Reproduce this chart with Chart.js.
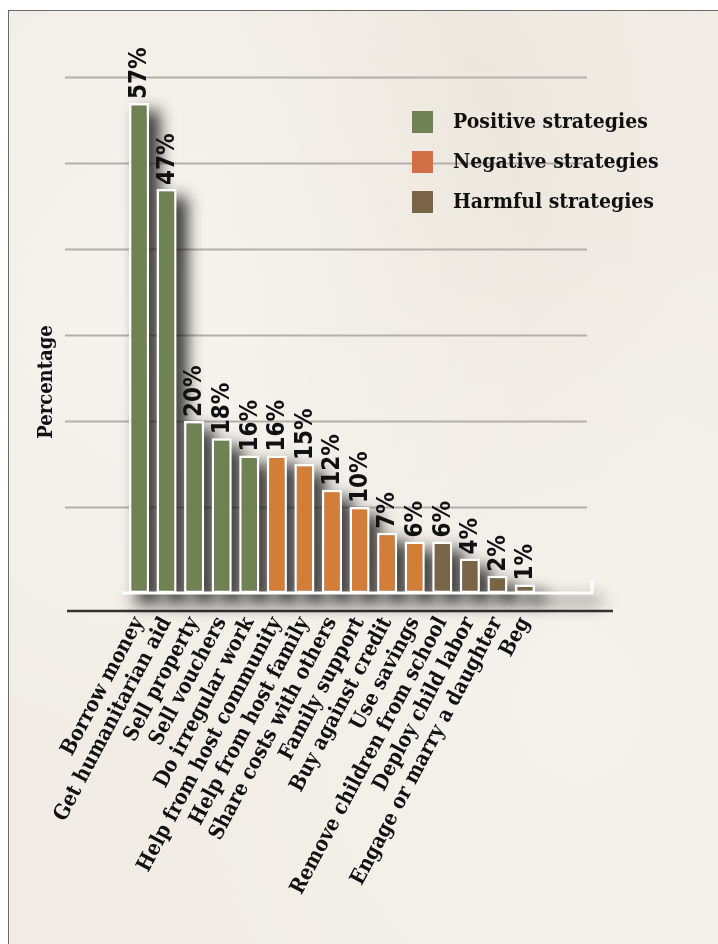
<!DOCTYPE html>
<html>
<head>
<meta charset="utf-8">
<script src="https://cdn.jsdelivr.net/npm/chart.js@4.4.1/dist/chart.umd.min.js"></script>
<style>
  html, body { margin: 0; padding: 0; background: #ffffff; }
  #wrap { position: relative; width: 718px; height: 944px; overflow: hidden; background: #ffffff; }
  #paper {
    position: absolute; left: 8px; top: 10px; width: 760px; height: 990px;
    border-top: 1.5px solid #6a6a6a; border-left: 1.5px solid #6a6a6a;
    background:
      radial-gradient(ellipse at 20% 30%, rgba(255,255,255,0.4), rgba(255,255,255,0) 45%),
      radial-gradient(ellipse at 75% 70%, rgba(255,255,255,0.3), rgba(255,255,255,0) 50%),
      radial-gradient(ellipse at 60% 15%, rgba(230,222,208,0.4), rgba(230,222,208,0) 40%),
      #f1ede6;
  }
  #chart { position: absolute; left: 0; top: 0; }
  #legend { position: absolute; left: 412px; top: 111px; font-family: 'DejaVu Serif', serif; font-weight: bold; font-stretch: condensed; font-size: 21px; color: #111; }
  .item { position: relative; height: 40px; }
  .sw { position: absolute; left: 0; top: 0; width: 21px; height: 22px; }
  .tx { position: absolute; left: 41px; top: -2px; line-height: 24px; white-space: nowrap; }
</style>
</head>
<body>
<div id="wrap">
  <div id="paper"></div>
  <canvas id="chart" width="718" height="944"></canvas>
  <div id="legend"></div>
</div>
<script>
// ---- data ----
const categories = [
  'Borrow money', 'Get humanitarian aid', 'Sell property', 'Sell vouchers', 'Do irregular work',
  'Help from host community', 'Help from host family', 'Share costs with others', 'Family support',
  'Buy against credit', 'Use savings', 'Remove children from school', 'Deploy child labor',
  'Engage or marry a daughter', 'Beg'
];
const values = [57, 47, 20, 18, 16, 16, 15, 12, 10, 7, 6, 6, 4, 2, 1];
const groupOf = ['P','P','P','P','P','N','N','N','N','N','N','H','H','H','H'];
const groupKeys = ['P', 'N', 'H'];
const groupNames = ['Positive strategies', 'Negative strategies', 'Harmful strategies'];
const groupColors = ['#6e8253', '#d27e39', '#7a6446'];
const legendColors = ['#6e8253', '#d36f46', '#7a6446'];
const gridValues = [10, 20, 30, 40, 50, 60];
const yAxisTitle = 'Percentage';

const datasets = groupKeys.map((g, k) => ({
  label: groupNames[k],
  data: values.map((v, i) => groupOf[i] === g ? v : null),
  backgroundColor: groupColors[k],
  borderColor: '#ffffff',
  borderWidth: 2.5,
  borderSkipped: false,
  grouped: false,
  clip: false,
  barPercentage: 0.73,
  categoryPercentage: 1.0
}));

function forEachBar(chart, fn) {
  chart.data.datasets.forEach((ds, di) => {
    const meta = chart.getDatasetMeta(di);
    meta.data.forEach((el, i) => {
      if (ds.data[i] === null || ds.data[i] === undefined) return;
      fn(el, ds.data[i], i);
    });
  });
}

const decor = {
  id: 'decor',
  beforeDatasetsDraw(chart) {
    const ctx = chart.ctx;
    const y = chart.scales.y;
    const bottom = chart.chartArea.bottom;
    ctx.save();
    ctx.strokeStyle = '#b3afa9';
    ctx.lineWidth = 2;
    gridValues.forEach(v => {
      const py = Math.round(y.getPixelForValue(v)) + 0.5;
      ctx.beginPath(); ctx.moveTo(65, py); ctx.lineTo(587, py); ctx.stroke();
    });
    ctx.strokeStyle = '#333333';
    ctx.lineWidth = 2.5;
    ctx.beginPath(); ctx.moveTo(67, bottom + 18); ctx.lineTo(613, bottom + 18); ctx.stroke();
    ctx.restore();

    const OFF = 5000;
    ctx.save();
    ctx.shadowColor = 'rgba(20,20,20,0.9)';
    ctx.shadowBlur = 16;
    ctx.shadowOffsetX = 10 + OFF;
    ctx.shadowOffsetY = 8;
    ctx.fillStyle = '#000';
    forEachBar(chart, (el) => {
      const p = el.getProps(['x', 'y', 'base', 'width'], true);
      ctx.fillRect(p.x - p.width / 2 - OFF, p.y, p.width, p.base - p.y);
    });
    ctx.fillRect(122 - OFF, bottom - 2, 470, 4);
    ctx.restore();

    ctx.save();
    ctx.strokeStyle = '#ffffff';
    ctx.lineWidth = 3;
    ctx.beginPath();
    ctx.moveTo(122, bottom);
    ctx.lineTo(592, bottom);
    ctx.lineTo(592, bottom - 13);
    ctx.stroke();
    ctx.restore();
  },
  afterDatasetsDraw(chart) {
    const ctx = chart.ctx;
    ctx.save();
    ctx.fillStyle = '#111111';
    ctx.font = 'bold 24px "DejaVu Sans Condensed", "DejaVu Sans"';
    ctx.textAlign = 'left';
    ctx.textBaseline = 'middle';
    forEachBar(chart, (el, v) => {
      const p = el.getProps(['x', 'y'], true);
      ctx.save();
      ctx.translate(p.x + 1, p.y - 4);
      ctx.rotate(-Math.PI / 2);
      ctx.fillText(v + '%', 0, 0);
      ctx.restore();
    });
    ctx.font = 'bold 20px "DejaVu Serif Condensed", "DejaVu Serif"';
    ctx.textAlign = 'center';
    ctx.translate(47, 382);
    ctx.rotate(-Math.PI / 2);
    ctx.fillText(yAxisTitle, 0, 0);
    ctx.restore();
  }
};

const chart = new Chart(document.getElementById('chart'), {
  type: 'bar',
  data: { labels: categories, datasets },
  options: {
    responsive: false,
    animation: false,
    devicePixelRatio: 1,
    layout: { padding: { left: 125.2, right: 179.2, top: 60, bottom: 0 } },
    plugins: { legend: { display: false }, tooltip: { enabled: false } },
    scales: {
      x: {
        grid: { display: false, drawTicks: false },
        border: { display: false },
        ticks: {
          autoSkip: false, minRotation: 62, maxRotation: 62, padding: 20,
          color: '#111111',
          font: { family: '"DejaVu Serif Condensed", "DejaVu Serif"', weight: 'bold', size: 21 }
        },
        afterFit(scale) { scale.height = 351; }
      },
      y: { display: false, min: 0, max: 62 }
    }
  },
  plugins: [decor]
});

const leg = document.getElementById('legend');
chart.data.datasets.forEach((ds, k) => {
  const item = document.createElement('div');
  item.className = 'item';
  const sw = document.createElement('div');
  sw.className = 'sw';
  sw.style.background = legendColors[k];
  const tx = document.createElement('div');
  tx.className = 'tx';
  tx.textContent = ds.label;
  item.appendChild(sw); item.appendChild(tx);
  leg.appendChild(item);
});
</script>
</body>
</html>
